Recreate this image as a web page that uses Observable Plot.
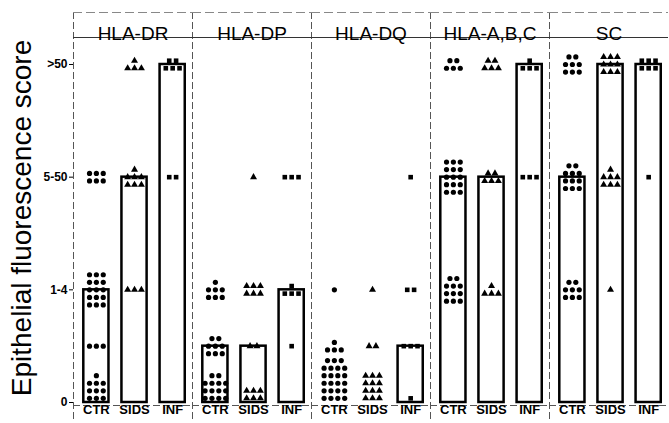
<!DOCTYPE html>
<html><head><meta charset="utf-8">
<script src="https://cdn.jsdelivr.net/npm/d3@7"></script>
<script src="https://cdn.jsdelivr.net/npm/@observablehq/plot@0.6"></script>
<style>body{margin:0;background:#fff}</style>
</head><body><div id="chart"></div>
<script>
// ---- data ----
const panels = ["HLA-DR", "HLA-DP", "HLA-DQ", "HLA-A,B,C", "SC"];
const groups = ["CTR", "SIDS", "INF"];
const scoreLevels = [0, 0.5, 1, 1.5, 2, 2.5, 3];
const yTickValues = [0, 1, 2, 3];
const yTickLabels = ["0", "1-4", "5-50", ">50"];
// number of cases at each score level, per group [CTR, SIDS, INF]
const countsDR  = [[10, 3, 15, 0, 6, 0, 0], [0, 0, 3, 0, 7, 0, 4], [0, 0, 0, 0, 2, 0, 5]];
const countsDP  = [[14, 8, 7, 0, 0, 0, 0], [6, 2, 6, 0, 1, 0, 0], [0, 1, 4, 0, 3, 0, 0]];
const countsDQ  = [[23, 4, 1, 0, 0, 0, 0], [12, 2, 1, 0, 0, 0, 0], [1, 3, 2, 0, 1, 0, 0]];
const countsABC = [[0, 0, 11, 0, 15, 0, 5], [0, 0, 4, 0, 5, 0, 5], [0, 0, 0, 0, 3, 0, 4]];
const countsSC  = [[0, 0, 8, 0, 11, 0, 8], [0, 0, 1, 0, 7, 0, 9], [0, 0, 0, 0, 1, 0, 6]];
const countsByPanel = [countsDR, countsDP, countsDQ, countsABC, countsSC];

// ---- layout (derived) ----
const xDomain = [-0.6, 2.52];
const pxPerUnit = 112.667;
const yDomain = [-19 / pxPerUnit, 390 / pxPerUnit];
const headerLevel = 365 / pxPerUnit;
const baseLevel = -3 / pxPerUnit;
const dotStepX = 0.18, dotStepY = 0.067;

const dots = [];
const bars = [];
const labels = [];
panels.forEach((panel, pi) => {
  groups.forEach((group, gi) => {
    labels.push({panel, group, gi});
    const counts = countsByPanel[pi][gi];
    const scores = [];
    counts.forEach((n, li) => {
      const level = scoreLevels[li];
      for (let k = 0; k < n; k++) scores.push(level);
      if (!n) return;
      const cols = (level === 0 && n > 12) ? 4 : 3;
      const rows = Math.ceil(n / cols);
      for (let k = 0; k < n; k++) {
        const r = Math.floor(k / cols);
        const inRow = r < rows - 1 ? cols : n - cols * (rows - 1);
        const c = k % cols;
        const xOff = (c - (inRow - 1) / 2) * dotStepX;
        const yOff = level === 0 ? (r + 0.55) * dotStepY : (r - (rows - 1) / 2) * dotStepY;
        dots.push({panel, group, gi, x: gi + xOff, y: level + yOff});
      }
    });
    bars.push({panel, group, gi, median: d3.median(scores)});
  });
});

const chart = Plot.plot({
  width: 669,
  height: 423,
  marginLeft: 72,
  marginRight: 0,
  marginTop: 12,
  marginBottom: 2,
  style: {fontFamily: "'Liberation Sans', Arial, sans-serif", fontSize: "12px", fontWeight: "bold", background: "white", color: "black"},
  fx: {domain: panels, padding: 0, axis: null},
  x: {domain: xDomain, axis: null},
  y: {domain: yDomain, ticks: yTickValues, tickFormat: d => yTickLabels[yTickValues.indexOf(d)], tickSize: 4, tickPadding: 2, label: null},
  symbol: {domain: groups, range: ["circle", "triangle", "square"]},
  marks: [
    Plot.ruleX([xDomain[0]], {stroke: "#555", strokeDasharray: "7,3"}),
    Plot.ruleY([yDomain[1]], {stroke: "#888", strokeDasharray: "9,4"}),
    Plot.ruleY([headerLevel], {stroke: "#333", strokeWidth: 1.2}),
    Plot.ruleY([baseLevel], {stroke: "#555", strokeDasharray: "7,3"}),
    Plot.text(panels, {fx: d => d, text: d => d, frameAnchor: "top", dy: 14, fontSize: 19, fontWeight: "normal"}),
    Plot.rect(bars, {fx: "panel", x1: d => d.gi - 0.33, x2: d => d.gi + 0.33, y1: 0, y2: "median", fill: "white", stroke: "black", strokeWidth: 2.5}),
    Plot.dot(dots, {fx: "panel", x: "x", y: "y", symbol: "group", r: 2.6, fill: "black", stroke: "none"}),
    Plot.text(labels, {fx: "panel", x: "gi", text: "group", frameAnchor: "bottom", dy: -8, fontSize: 13, fontWeight: "bold"})
  ]
});
document.getElementById("chart").appendChild(chart);

d3.select(chart).append("text")
  .attr("transform", "translate(31,218) rotate(-90)")
  .attr("text-anchor", "middle")
  .style("font-family", "'Liberation Sans', Arial, sans-serif")
  .style("font-size", "28px")
  .style("font-weight", "normal")
  .attr("fill", "black")
  .text("Epithelial fluorescence score");
</script>
</body></html>
